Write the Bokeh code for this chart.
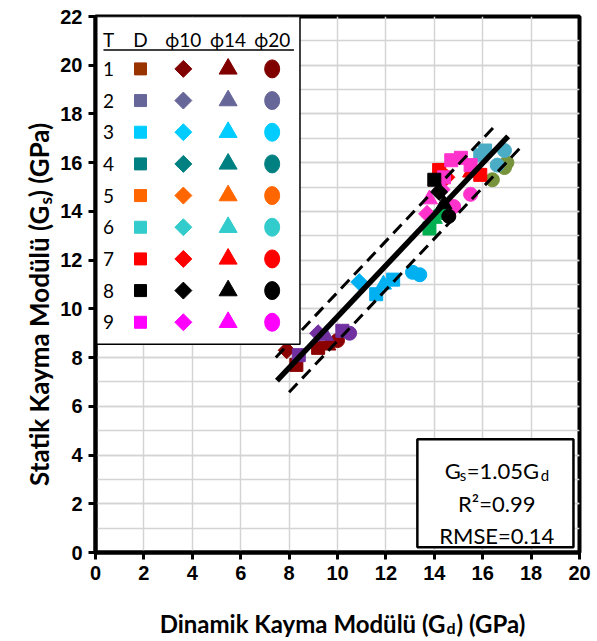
import numpy as np
from bokeh.plotting import figure
from bokeh.layouts import row, column
from bokeh.models import Range1d, SingleIntervalTicker, ColumnDataSource
from bokeh.core.properties import value
from bokeh.embed import file_html
from bokeh.resources import INLINE

# ---------------- data ----------------
t1_x = [7.9, 8.3, 9.2, 9.6, 10.0]
t1_y = [8.3, 7.7, 8.4, 8.5, 8.7]
t1_m = ["diamond", "square", "square", "triangle", "circle"]

t2_x = [8.4, 9.2, 9.5, 10.2, 10.5]
t2_y = [8.1, 9.0, 8.9, 9.1, 9.0]
t2_m = ["square", "diamond", "triangle", "square", "circle"]

t3_x = [10.9, 11.6, 11.9, 12.3, 13.1, 13.4]
t3_y = [11.1, 10.6, 11.0, 11.2, 11.5, 11.4]
t3_m = ["diamond", "square", "triangle", "square", "circle", "circle"]

t4_x = [13.8, 14.0, 14.3]
t4_y = [13.3, 13.7, 14.0]
t4_m = ["square", "triangle", "diamond"]

t5_x = [16.4, 16.9, 17.0]
t5_y = [15.3, 15.8, 16.0]
t5_m = ["circle", "circle", "circle"]

t6_x = [15.9, 16.1, 16.6, 16.9]
t6_y = [16.3, 16.5, 15.9, 16.5]
t6_m = ["square", "square", "circle", "circle"]

t7_x = [14.2, 14.5, 15.5, 15.9]
t7_y = [15.7, 15.4, 15.6, 15.5]
t7_m = ["square", "diamond", "triangle", "square"]

t9_x = [13.7, 13.8, 14.3, 14.4, 14.7, 15.1, 15.5, 15.5, 14.8]
t9_y = [13.9, 14.5, 14.9, 15.4, 16.1, 16.2, 15.9, 14.7, 14.2]
t9_m = ["diamond", "triangle", "diamond", "square", "square", "square", "square", "circle", "circle"]

t8_x = [14.0, 14.2, 14.4, 14.6]
t8_y = [15.3, 14.8, 14.3, 13.8]
t8_m = ["square", "diamond", "triangle", "circle"]

data_colors = ["#8B0000", "#7030A0", "#00B0F0", "#00B050", "#77933C",
               "#4BACC6", "#FF0000", "#FF33CC", "#000000"]

# fitted relation as drawn
fit_slope = 1.05
fit_intercept = -0.82
fit_x = [7.5, 17.05]
band_offset = 1.0
band_upper_x = [7.45, 16.5]
band_lower_x = [8.0, 17.6]

# legend table
legend_rows = ["1", "2", "3", "4", "5", "6", "7", "8", "9"]
legend_headers = ["T", "D", "ϕ10", "ϕ14", "ϕ20"]
legend_square_colors = ["#993300", "#666699", "#00CCFF", "#008080", "#FF6600",
                        "#33CCCC", "#FF0000", "#000000", "#FF00FF"]
legend_colors = ["#800000", "#666699", "#00CCFF", "#008080", "#FF6600",
                 "#33CCCC", "#FF0000", "#000000", "#FF00FF"]

stats_lines = ["R²=0.99", "RMSE=0.14"]
x_title = ["Dinamik Kayma Modülü (G", "d", ") (GPa)"]
y_title = ["Statik Kayma Modülü (G", "s", ") (GPa)"]

x_ticks_interval = 2
y_ticks_interval = 2

# ---------------- main figure ----------------
p = figure(width=535, height=587, x_range=Range1d(0, 20), y_range=Range1d(0, 22),
           output_backend="svg", toolbar_location=None,
           min_border_left=37, min_border_right=13, min_border_top=16, min_border_bottom=35)
p.background_fill_color = "white"
p.border_fill_color = "white"
p.outline_line_color = "black"
p.outline_line_width = 4

p.xaxis.ticker = SingleIntervalTicker(interval=x_ticks_interval, num_minor_ticks=0)
p.yaxis.ticker = SingleIntervalTicker(interval=y_ticks_interval, num_minor_ticks=2)
for ax in [p.xaxis[0], p.yaxis[0]]:
    ax.axis_line_width = 4
    ax.axis_line_color = "black"
    ax.major_tick_line_width = 3
    ax.major_tick_line_color = "black"
    ax.major_tick_out = 7
    ax.major_tick_in = 0
    ax.minor_tick_line_color = None
    ax.major_label_text_font = "Liberation Sans"
    ax.major_label_text_font_style = "bold"
    ax.major_label_text_font_size = "20px"
    ax.major_label_text_color = "black"
    ax.major_label_standoff = 6

p.xgrid.grid_line_color = "#D4D4D4"
p.xgrid.grid_line_width = 1.5
p.ygrid.grid_line_color = "#D4D4D4"
p.ygrid.grid_line_width = 1.5
p.ygrid.minor_grid_line_color = "#D4D4D4"
p.ygrid.minor_grid_line_width = 1.5

# ---------------- data points ----------------
groups = [(t1_x, t1_y, t1_m), (t2_x, t2_y, t2_m), (t3_x, t3_y, t3_m), (t4_x, t4_y, t4_m),
          (t5_x, t5_y, t5_m), (t6_x, t6_y, t6_m), (t7_x, t7_y, t7_m), (t9_x, t9_y, t9_m),
          (t8_x, t8_y, t8_m)]
size_map = {"square": 13, "diamond": 12, "triangle": 16, "circle": 14}
for (gx, gy, gm), col in zip(groups, data_colors):
    src = ColumnDataSource(dict(
        x=gx, y=gy,
        marker=["square" if m == "diamond" else m for m in gm],
        angle=[np.pi / 4 if m == "diamond" else 0.0 for m in gm],
        size=[size_map[m] for m in gm]))
    p.scatter("x", "y", marker="marker", size="size", angle="angle", source=src,
              fill_color=col, line_color=col, line_width=1)

# ---------------- fit lines ----------------
fx = np.array(fit_x)
p.line(fx, fit_slope * fx + fit_intercept, line_color="black", line_width=5.5)
ux = np.array(band_upper_x)
p.line(ux, fit_slope * ux + fit_intercept + band_offset, line_color="black", line_width=3,
       line_dash="12 7")
lx = np.array(band_lower_x)
p.line(lx, fit_slope * lx + fit_intercept - band_offset, line_color="black", line_width=3,
       line_dash="12 7")

# ---------------- legend table (top-left box) ----------------
p.quad(left=[0], right=[8.45], bottom=[8.55], top=[22], fill_color="white",
       line_color="black", line_width=1.5)
col_x = [0.54, 1.86, 3.63, 5.48, 7.30]
header_y = 21.06
p.text(x=col_x, y=[header_y] * 5, text=legend_headers, text_font=value("Lato"),
       text_font_size="19px", text_align="center", text_baseline="middle", text_color="black")
p.line([0.33, 8.2], [20.62, 20.62], line_color="black", line_width=1.5)
row_y = [19.85 - 1.3 * i for i in range(len(legend_rows))]
p.text(x=[col_x[0]] * 9, y=row_y, text=legend_rows, text_font=value("Lato"),
       text_font_size="19px", text_align="center", text_baseline="middle", text_color="black")
p.scatter([col_x[1]] * 9, row_y, marker="square", size=12, fill_color=legend_square_colors,
          line_color=legend_square_colors)
p.scatter([col_x[2]] * 9, row_y, marker="square", angle=np.pi / 4, size=12,
          fill_color=legend_colors, line_color=legend_colors)
p.scatter([col_x[3]] * 9, row_y, marker="triangle", size=18, fill_color=legend_colors,
          line_color=legend_colors)
p.ellipse(x=[col_x[4]] * 9, y=row_y, width=15, height=18, width_units="screen",
          height_units="screen", fill_color=legend_colors, line_color=legend_colors)

# ---------------- statistics box ----------------
p.quad(left=[13.3], right=[19.75], bottom=[0.22], top=[4.65], fill_color="white",
       line_color="black", line_width=2.5)
sx = 16.58
fs = "22px"
sub = "15px"
p.text(x=[sx], y=[3.35], text=["G"], x_offset=[-52], text_font=value("Lato"),
       text_font_size=fs, text_baseline="alphabetic", text_align="left")
p.text(x=[sx], y=[3.35], text=["s"], x_offset=[-37], y_offset=[4], text_font=value("Lato"),
       text_font_size=sub, text_baseline="alphabetic", text_align="left")
p.text(x=[sx], y=[3.35], text=["=1.05G"], x_offset=[-30], text_font=value("Lato"),
       text_font_size=fs, text_baseline="alphabetic", text_align="left")
p.text(x=[sx], y=[3.35], text=["d"], x_offset=[44], y_offset=[4], text_font=value("Lato"),
       text_font_size=sub, text_baseline="alphabetic", text_align="left")
p.text(x=[sx, sx], y=[2.02, 0.7], text=stats_lines, text_font=value("Lato"), text_font_size=fs,
       text_baseline="alphabetic", text_align="center")

# ---------------- axis titles (separate strips, composed for subscripts) ----------------
lab_size = "24px"
sub_size = "16px"
xh = 52
px_ = figure(width=592, height=xh, x_range=Range1d(0, 592), y_range=Range1d(0, xh),
             output_backend="svg", toolbar_location=None, x_axis_type=None, y_axis_type=None,
             min_border=0)
px_.outline_line_color = None
px_.grid.visible = False
ax_anchor = 445
base = 16
px_.text(x=[ax_anchor], y=[base], text=[x_title[0]], text_align="right", text_baseline="alphabetic",
         text_font=value("Lato"), text_font_size=lab_size, text_font_style="bold")
px_.text(x=[ax_anchor + 1], y=[base - 4], text=[x_title[1]], text_align="left",
         text_baseline="alphabetic", text_font=value("Lato"), text_font_size=sub_size,
         text_font_style="bold")
px_.text(x=[ax_anchor + 11], y=[base], text=[x_title[2]], text_align="left",
         text_baseline="alphabetic", text_font=value("Lato"), text_font_size=lab_size,
         text_font_style="bold")

ylab_size = "26px"
ysub_size = "17px"
yw = 57
py_ = figure(width=yw, height=587, x_range=Range1d(0, yw), y_range=Range1d(0, 587),
             output_backend="svg", toolbar_location=None, x_axis_type=None, y_axis_type=None,
             min_border=0)
py_.outline_line_color = None
py_.grid.visible = False
ay_anchor = 380
py_.text(x=[38], y=[ay_anchor], text=[y_title[0]], text_align="right", text_baseline="middle",
         angle=np.pi / 2, text_font=value("Lato"), text_font_size=ylab_size, text_font_style="bold")
py_.text(x=[45], y=[ay_anchor + 1], text=[y_title[1]], text_align="left", text_baseline="middle",
         angle=np.pi / 2, text_font=value("Lato"), text_font_size=ysub_size, text_font_style="bold")
py_.text(x=[38], y=[ay_anchor + 9], text=[y_title[2]], text_align="left", text_baseline="middle",
         angle=np.pi / 2, text_font=value("Lato"), text_font_size=ylab_size, text_font_style="bold")

layout = column(row(py_, p, spacing=0), px_, spacing=0)
open("out.html", "w").write(file_html(layout, INLINE))
